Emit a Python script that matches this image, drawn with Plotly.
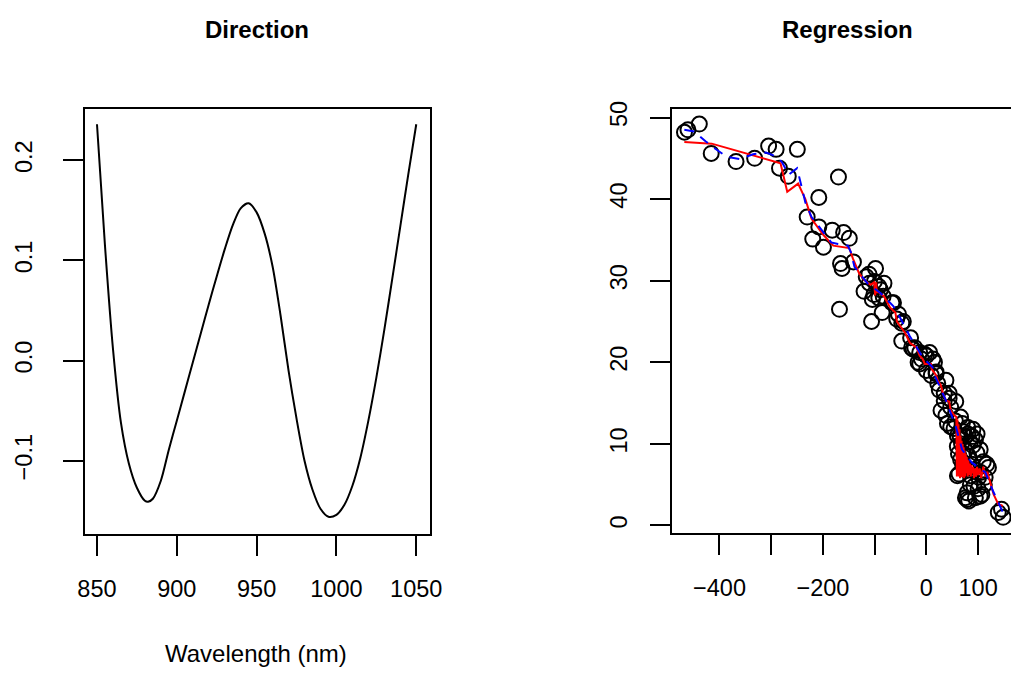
import plotly.graph_objects as go

W, H = 1023, 690

# ---- Left panel: direction curve ----
wavelength = [850, 855, 860, 865, 870, 875, 880, 882, 885, 890, 895, 900, 905, 910,
              915, 920, 925, 930, 935, 940, 945, 950, 955, 960, 965, 970, 975,
              980, 985, 990, 995, 1000, 1005, 1010, 1015, 1020, 1025, 1030, 1035,
              1040, 1045, 1050]
direction = [0.236, 0.115, 0.012, -0.062, -0.103, -0.127, -0.140, -0.141, -0.138,
             -0.120, -0.089, -0.060, -0.031, -0.002, 0.027, 0.056, 0.084, 0.111,
             0.135, 0.152, 0.157, 0.148, 0.127, 0.094, 0.045, -0.010, -0.058,
             -0.100, -0.129, -0.148, -0.156, -0.154, -0.144, -0.125, -0.097,
             -0.060, -0.017, 0.031, 0.082, 0.134, 0.186, 0.236]

# ---- Right panel: regression scatter ----
reg_x = [-467.7, -461, -439, -416, -368, -332, -305, -290.5, -249.5, -284, -267,
         -170, -208, -230.5, -208, -219.7, -199, -182, -160, -149, -166, -163,
         -141, -168, -111, -98.3, -106, -120.5, -104.5, -92, -82, -85.5, -83.6,
         -63.6, -54, -47.6, -47.6, -30.5, -22.4, -12.9, 0, 15.6, 18.8, -116.3,
         -110, -100.6, -101.5, -92, -88.8, -66.6, -57.3, -44.6, -28.7, -12.9,
         -3.4, -16, -25.6, -9.7, 6.3, 12.6, 0, 9.5, 18.8, 22, 25, 37.8, 34.5,
         44, 28.3, 37.8, 47, 56.8, 40.7, 53.5, 66, 69.4, 44, 34.5, 47, 75.5,
         88.2, 94.7, 59.8, 66.2, 97.7, 104, 116.7, 120, 63, 85, 101, 113.6,
         78.8, 78.8, 94.7, 107.3, 82, 75.5, 104, 139, 148.4, 145.2, 60, 72, 80,
         85, 68, 75, 82, 90, 70, 78, 88, 95, 105, 110, 65, 92, 85, 100, 112,
         72, 98, 60, 56, 90, 80, 62]
reg_y = [48.2, 48.5, 49.2, 45.6, 44.6, 45.0, 46.5, 46.1, 46.1, 43.8, 42.8, 42.7,
         40.2, 37.8, 36.6, 35.1, 34.1, 36.2, 35.9, 35.2, 32.1, 31.5, 32.3, 26.5,
         30.8, 31.5, 25.0, 28.7, 27.7, 29.3, 29.7, 26.1, 28.1, 27.3, 25.9, 24.8,
         22.6, 23.0, 21.8, 19.8, 20.8, 20.0, 18.6, 30.5, 29.7, 29.9, 28.3, 27.9,
         28.9, 27.3, 25.3, 25.0, 21.8, 21.2, 21.0, 20.0, 21.6, 20.4, 21.2, 20.4,
         19.0, 18.4, 18.8, 17.4, 16.6, 17.8, 16.2, 15.6, 14.1, 13.5, 14.5, 15.2,
         12.5, 11.9, 13.3, 12.5, 16.2, 15.3, 12.1, 10.9, 10.9, 10.5, 9.7, 8.1,
         8.9, 9.3, 7.5, 7.1, 6.3, 6.1, 5.9, 5.9, 4.0, 3.2, 3.4, 3.8, 3.0, 3.4,
         3.6, 1.6, 1.0, 2.0, 6.1, 11.5, 11.2, 10.2, 10.0, 9.2, 8.5, 9.8, 7.5,
         7.0, 7.5, 6.8, 6.5, 7.8, 11.0, 4.8, 5.0, 4.5, 5.0, 8.8, 11.2, 11.0,
         12.8, 11.8, 12.0, 8.8]

fit_x = [-468, -415, -282, -269, -248, -234, -222, -199, -180, -149, -142, -130,
         -120, -108, -101, -99, -97, -96, -92, -82, -70, -60, -57, -41, -32,
         -19, -13, -7, -3, 9, 10, 19, 22, 28, 32, 38, 44, 47, 54, 58, 59, 60,
         61, 62, 63, 64, 65, 66, 67, 68, 69, 70, 71, 72, 73, 74, 75, 76, 77,
         78, 80, 81, 83, 84, 86, 87, 89, 90, 92, 94, 96, 98, 100, 103, 106,
         110, 114, 118, 122, 130, 139, 148]
fit_y = [47.0, 46.8, 44.4, 40.9, 41.9, 40.0, 37.6, 35.6, 34.3, 34.0, 32.7, 30.9,
         30.1, 29.5, 29.8, 28.2, 29.8, 28.6, 28.6, 28.1, 26.7, 26.1, 25.0, 23.6,
         22.4, 21.8, 20.8, 20.4, 19.8, 19.8, 19.2, 18.4, 17.8, 17.2, 16.2, 15.3,
         15.2, 14.1, 13.5, 13.3, 6.0, 13.0, 6.2, 12.4, 6.0, 11.8, 5.8, 11.0,
         6.0, 10.4, 5.9, 10.0, 6.2, 9.6, 5.8, 9.2, 6.0, 8.8, 6.4, 8.4, 6.0, 8.0,
         6.2, 7.6, 6.0, 7.4, 6.4, 7.2, 5.8, 7.0, 6.0, 7.2, 6.2, 7.0, 5.8, 7.2,
         6.0, 6.6, 5.6, 3.8, 2.6, 2.4]

smooth_x = [-468, -449, -427, -411, -386, -361, -335, -310, -297, -285, -278,
            -266, -250, -234, -222, -184, -171, -152, -146, -139, -114, -89,
            -64, -51, -32, -7, 12, 16, 38, 57, 69, 88, 114, 129, 148]
smooth_y = [48.5, 48.3, 47.1, 46.3, 45.2, 44.9, 45.5, 45.7, 45.4, 45.0, 44.4,
            43.0, 43.8, 39.6, 37.8, 34.7, 34.5, 34.3, 33.5, 31.7, 29.7, 28.5,
            26.9, 25.5, 23.2, 20.6, 19.4, 18.4, 15.3, 12.1, 9.3, 7.7, 6.5, 4.2,
            1.6]

left_xticks = [850, 900, 950, 1000, 1050]
left_yticks = [-0.1, 0.0, 0.1, 0.2]
left_ytext = ["\u22120.1", "0.0", "0.1", "0.2"]
right_xticks = [-400, -300, -200, -100, 0, 100]
right_xtext = ["\u2212400", "", "\u2212200", "", "0", "100"]
right_yticks = [0, 10, 20, 30, 40, 50]

FONT = "Liberation Sans, Arial, Helvetica, sans-serif"
TICKSIZE = 23.5

fig = go.Figure()
fig.add_trace(go.Scatter(x=wavelength, y=direction, mode="lines",
                         line=dict(color="black", width=2, shape="spline", smoothing=0.8),
                         xaxis="x", yaxis="y", showlegend=False, hoverinfo="skip"))
fig.add_trace(go.Scatter(x=reg_x, y=reg_y, mode="markers",
                         marker=dict(symbol="circle-open", size=15, color="black",
                                     line=dict(width=2, color="black")),
                         xaxis="x2", yaxis="y2", showlegend=False, hoverinfo="skip"))
fig.add_trace(go.Scatter(x=fit_x, y=fit_y, mode="lines",
                         line=dict(color="red", width=2),
                         xaxis="x2", yaxis="y2", showlegend=False, hoverinfo="skip"))
fig.add_trace(go.Scatter(x=smooth_x, y=smooth_y, mode="lines",
                         line=dict(color="blue", width=2, dash="10px,8px"),
                         xaxis="x2", yaxis="y2", showlegend=False, hoverinfo="skip"))

def px_x(p):
    return p / W

def px_y(p):
    return 1 - p / H

axis_common = dict(showgrid=False, zeroline=False, showline=True, linecolor="black",
                   linewidth=2, ticks="outside", ticklen=20, tickwidth=2,
                   tickcolor="black", tickfont=dict(family=FONT, size=TICKSIZE, color="black"))

fig.update_layout(
    width=W, height=H, margin=dict(l=0, r=0, t=0, b=0),
    paper_bgcolor="white", plot_bgcolor="white",
    xaxis=dict(domain=[px_x(79), px_x(431)], range=[842.2, 1058.6], anchor="y",
               tickvals=left_xticks, mirror=True, ticklabelstandoff=13, **axis_common),
    yaxis=dict(domain=[px_y(532), px_y(102)], range=[-0.173, 0.2514], anchor="x",
               tickvals=left_yticks, ticktext=left_ytext, tickangle=-90, mirror=True,
               ticklabelstandoff=21, **axis_common),
    xaxis2=dict(domain=[px_x(677.7), 1.0], range=[-491.6, 163.6], anchor="y2",
                tickvals=right_xticks, ticktext=right_xtext, mirror=True,
                ticklabelstandoff=13, **axis_common),
    yaxis2=dict(domain=[px_y(531), px_y(102)], range=[-0.9, 51.07], anchor="x2",
                tickvals=right_yticks, tickangle=-90, mirror=False,
                ticklabelstandoff=14, **axis_common),
    annotations=[
        dict(text="<b>Direction</b>", x=px_x(255), y=px_y(22), xref="paper", yref="paper",
             xanchor="center", yanchor="middle", showarrow=False,
             font=dict(family=FONT, size=24, color="black")),
        dict(text="<b>Regression</b>", x=px_x(856), y=px_y(22), xref="paper", yref="paper",
             xanchor="center", yanchor="middle", showarrow=False,
             font=dict(family=FONT, size=24, color="black")),
        dict(text="Wavelength (nm)", x=px_x(254), y=px_y(653), xref="paper", yref="paper",
             xanchor="center", yanchor="middle", showarrow=False,
             font=dict(family=FONT, size=24, color="black")),
    ],
)

fig.write_html("out.html")
